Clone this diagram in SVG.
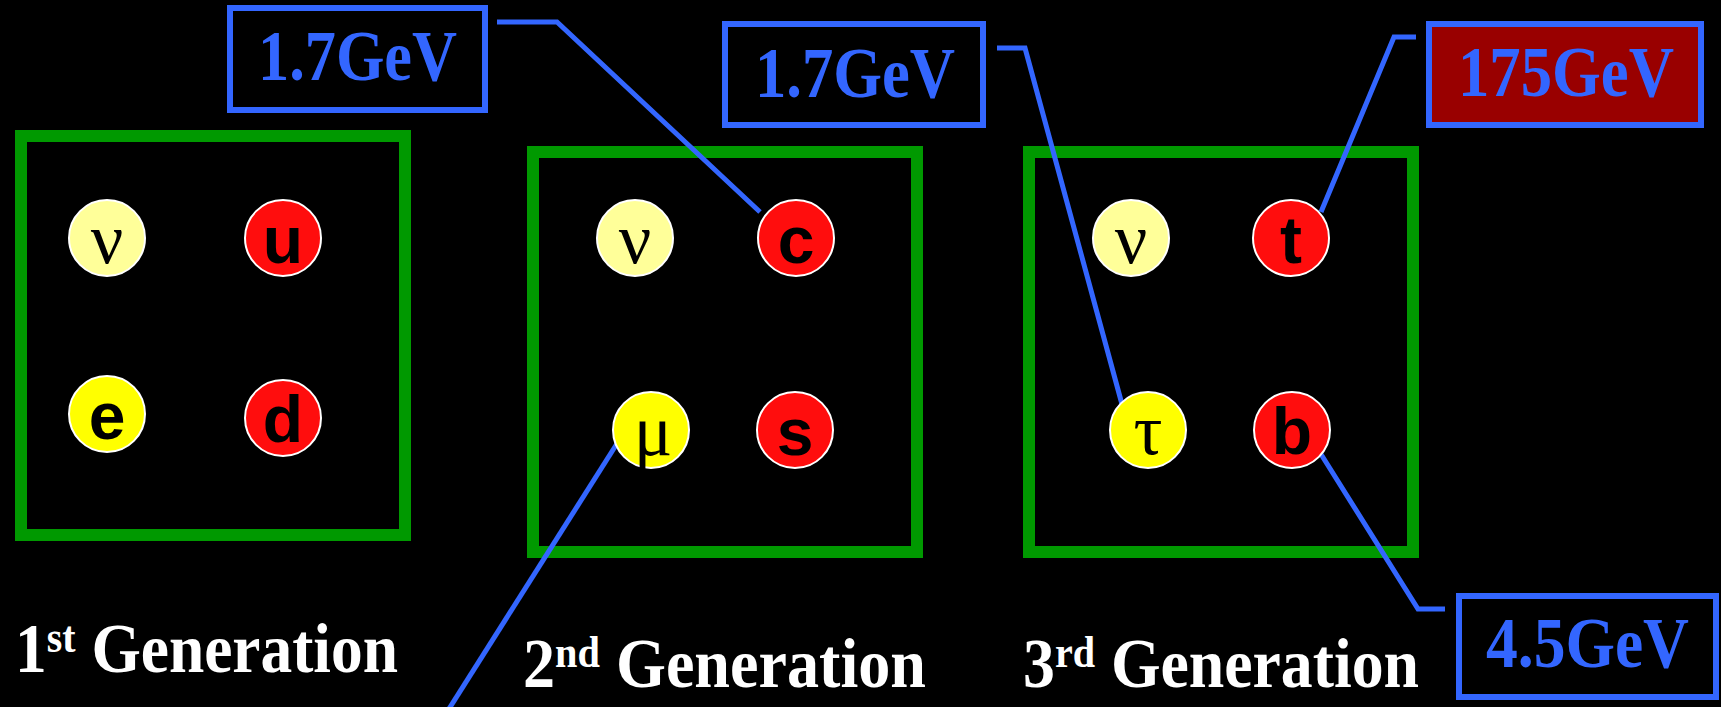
<svg xmlns="http://www.w3.org/2000/svg" width="1721" height="707" viewBox="0 0 1721 707">
<style>
.gen{fill:none;stroke:#009900;stroke-width:12}
.lbl{fill:none;stroke:#3366FF;stroke-width:6}
.lt{font-family:"Liberation Serif","Times New Roman",serif;font-weight:bold;font-size:72px;fill:#3366FF}
.pl{fill:#FFFF99;stroke:#FFFFFF;stroke-width:2}
.ye{fill:#FFFF00;stroke:#FFFFFF;stroke-width:2}
.rd{fill:#FF0D0D;stroke:#FFFFFF;stroke-width:2}
.q{font-family:"Liberation Sans",Arial,sans-serif;font-weight:bold;font-size:66px;fill:#000;text-anchor:middle}
.g{font-family:"Liberation Serif","Times New Roman",serif;font-size:72px;fill:#000;text-anchor:middle}
.gt{font-family:"Liberation Serif","Times New Roman",serif;font-weight:bold;font-size:70px;fill:#FFFFFF}
.sup{font-size:44px}
.con{fill:none;stroke:#3366FF;stroke-width:5}
</style>
<rect x="0" y="0" width="1721" height="707" fill="#000"/>

<g id="gen1">
<rect class="gen" x="21" y="136" width="384" height="399"/>
<text class="gt" x="15" y="672" textLength="383" lengthAdjust="spacingAndGlyphs">1<tspan class="sup" dy="-20">st</tspan><tspan dy="20"> Generation</tspan></text>
</g>
<g id="gen2">
<rect class="gen" x="533" y="152" width="384" height="400"/>
<text class="gt" x="523" y="687" textLength="403" lengthAdjust="spacingAndGlyphs">2<tspan class="sup" dy="-20">nd</tspan><tspan dy="20"> Generation</tspan></text>
</g>
<g id="gen3">
<rect class="gen" x="1029" y="152" width="384" height="400"/>
<text class="gt" x="1023" y="687" textLength="396" lengthAdjust="spacingAndGlyphs">3<tspan class="sup" dy="-20">rd</tspan><tspan dy="20"> Generation</tspan></text>
</g>

<g id="connectors">
<polyline class="con" points="497,22 557,22 760,212"/>
<polyline class="con" points="997,48 1025,48 1126,419"/>
<polyline class="con" points="1321,212 1394,37 1416,37"/>
<polyline class="con" points="1319,451 1418,609 1445,609"/>
<line class="con" x1="618" y1="442" x2="447" y2="712"/>
</g>

<g id="nu1"><circle class="pl" cx="107" cy="238" r="38"/><text class="g" x="107" y="263">ν</text></g>
<g id="u"><circle class="rd" cx="283" cy="238" r="38"/><text class="q" x="283" y="263">u</text></g>
<g id="e"><circle class="ye" cx="107" cy="414" r="38"/><text class="q" x="107" y="439">e</text></g>
<g id="d"><circle class="rd" cx="283" cy="418" r="38"/><text class="q" x="283" y="442">d</text></g>

<g id="nu2"><circle class="pl" cx="635" cy="238" r="38"/><text class="g" x="635" y="263">ν</text></g>
<g id="c"><circle class="rd" cx="796" cy="238" r="38"/><text class="q" x="796" y="263">c</text></g>
<g id="mu"><circle class="ye" cx="651" cy="430" r="38"/><text class="g" x="653" y="455">μ</text></g>
<g id="s"><circle class="rd" cx="795" cy="430" r="38"/><text class="q" x="795" y="455">s</text></g>

<g id="nu3"><circle class="pl" cx="1131" cy="238" r="38"/><text class="g" x="1131" y="263">ν</text></g>
<g id="t"><circle class="rd" cx="1291" cy="238" r="38"/><text class="q" x="1291" y="263">t</text></g>
<g id="tau"><circle class="ye" cx="1148" cy="430" r="38"/><text class="g" x="1148" y="454">τ</text></g>
<g id="b"><circle class="rd" cx="1292" cy="430" r="38"/><text class="q" x="1292" y="454">b</text></g>

<g id="m-c"><rect class="lbl" x="230" y="8" width="255" height="102"/><text class="lt" x="258" y="80" textLength="199" lengthAdjust="spacingAndGlyphs">1.7GeV</text></g>
<g id="m-tau"><rect class="lbl" x="725" y="24" width="258" height="101"/><text class="lt" x="755" y="97" textLength="200" lengthAdjust="spacingAndGlyphs">1.7GeV</text></g>
<g id="m-t"><rect class="lbl" x="1429" y="24" width="272" height="101" style="fill:#990000"/><text class="lt" x="1458" y="96" textLength="216" lengthAdjust="spacingAndGlyphs">175GeV</text></g>
<g id="m-b"><rect class="lbl" x="1459" y="596" width="257" height="101"/><text class="lt" x="1486" y="667" textLength="203" lengthAdjust="spacingAndGlyphs">4.5GeV</text></g>
</svg>
